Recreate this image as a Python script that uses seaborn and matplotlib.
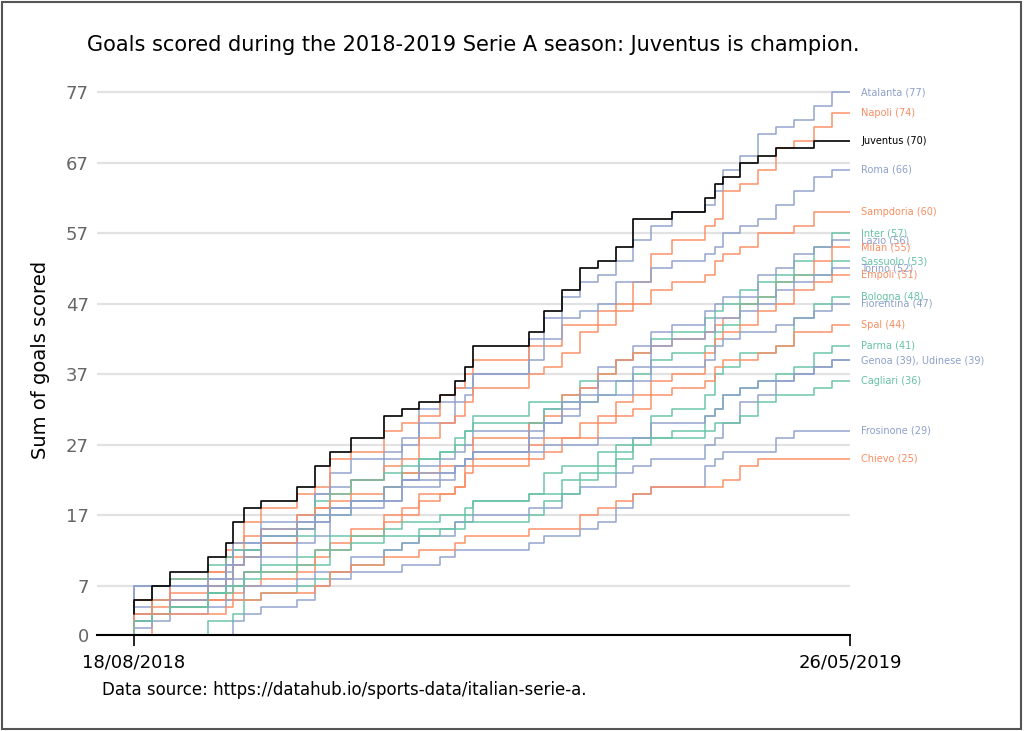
import matplotlib
matplotlib.use("Agg")
import matplotlib.pyplot as plt
import matplotlib.dates as mdates
from matplotlib.patches import Rectangle
import seaborn as sns
import pandas as pd
import numpy as np

# ---------------- data ----------------
round_dates = ["2018-08-18", "2018-08-25", "2018-09-01", "2018-09-16", "2018-09-23",
               "2018-09-26", "2018-09-30", "2018-10-07", "2018-10-21", "2018-10-28",
               "2018-11-03", "2018-11-11", "2018-11-24", "2018-12-01", "2018-12-08",
               "2018-12-16", "2018-12-22", "2018-12-26", "2018-12-29", "2019-01-20",
               "2019-01-26", "2019-02-02", "2019-02-09", "2019-02-16", "2019-02-23",
               "2019-03-02", "2019-03-09", "2019-03-17", "2019-03-30", "2019-04-03",
               "2019-04-06", "2019-04-13", "2019-04-20", "2019-04-27", "2019-05-04",
               "2019-05-12", "2019-05-19", "2019-05-26"]

# goals scored per round
atalanta   = [4,3,0,0, 1,2,3,0,3, 1,3,3,2, 1,2,4,1,2,0,2, 5,3,3,2,1,2,3,2,2, 1,2,3,2,3,1,1,2,2]
napoli     = [2,3,0,1, 3,3,1,3,2, 2,1,4,1, 3,1,1,3,1,2,2, 2,0,3,0,2,1,3,4,2, 2,1,4,1,2,3,1,2,2]
juventus   = [3,2,2,2, 2,2,3,2,1, 2,3,2,2, 3,1,1,1,2,2,3, 2,3,3,3,1,2,4,0,1, 2,2,1,2,1,1,0,1,0]
roma       = [1,3,1,2, 0,4,1,0,2, 2,4,1,1, 3,2,3,0,3,1,3, 2,3,3,1,1,3,0,2,1, 1,1,2,1,1,2,2,2,1]
sampdoria  = [0,0,3,5, 1,2,0,3,1, 2,1,2,2, 2,1,3,2,1,2,2, 2,1,2,3,1,2,1,2,1, 1,2,1,1,2,0,1,2,0]
inter      = [0,2,3,0, 1,2,2,1,2, 1,5,1,2, 1,0,2,1,1,2,2, 2,0,1,2,1,2,1,2,1, 2,1,1,2,1,1,2,2,2]
lazio      = [1,0,1,2, 2,3,1,2,1, 2,1,2,1, 2,1,2,1,1,1,2, 1,2,0,3,3,1,2,2,1, 2,1,1,0,3,1,2,1,1]
milan      = [0,2,2,1, 2,1,2,1,2, 2,3,1,1, 1,2,0,1,0,1,3, 2,1,3,1,2,2,1,1,1, 1,1,1,2,1,2,1,2,2]
sassuolo   = [1,2,4,1, 2,1,1,0,2, 1,2,0,2, 2,3,1,1,2,1,1, 0,2,1,0,1,2,1,2,1, 1,2,1,3,1,2,1,0,2]
torino     = [0,2,1,1, 1,2,1,1,2, 2,1,3,1, 1,2,0,1,2,1,1, 2,2,3,1,2,0,2,3,1, 1,2,0,1,1,2,1,1,1]
empoli     = [0,2,1,1, 1,0,1,1,1, 1,2,1,2, 2,1,2,1,1,3,1, 2,1,0,2,1,2,1,2,1, 3,2,1,1,2,1,2,1,1]
bologna    = [0,0,0,0, 2,0,1,2,1, 1,1,1,1, 2,1,2,0,1,1,2, 1,0,2,1,1,2,2,3,1, 2,3,1,2,0,1,4,2,1]
fiorentina = [1,6,0,0, 1,2,3,0,2, 1,1,1,1, 0,3,1,0,1,1,1, 3,1,1,2,1,0,2,2,0, 1,2,1,1,0,1,1,1,1]
spal       = [1,2,2,0, 0,1,1,2,0, 1,2,1,2, 2,1,2,0,1,2,1, 1,1,2,0,2,1,1,2,1, 1,2,1,0,1,1,2,0,1]
parma      = [2,0,1,1, 2,1,0,2,1, 1,1,2,0, 1,1,0,1,0,1,1, 1,3,1,0,2,1,1,0,1, 2,1,2,1,1,1,1,2,1]
genoa      = [2,0,1,2, 2,1,2,1,3, 1,1,2,1, 2,1,0,1,1,1,1, 0,1,0,0,1,0,0,2,0, 1,1,2,1,1,0,1,1,1]
udinese    = [2,1,0,0, 1,1,0,2,0, 1,1,0,2, 1,1,1,0,2,0,1, 1,0,2,1,0,2,1,1,0, 2,1,2,3,1,2,1,1,1]
cagliari   = [0,2,1,1, 2,0,1,1,1, 1,0,2,1, 1,0,0,1,0,1,0, 1,2,1,2,1,2,2,1,0, 1,1,0,1,2,1,0,1,1]
frosinone  = [0,0,0,0, 0,0,2,1,1, 1,2,1,1, 0,1,0,1,1,0,0, 1,1,0,1,1,2,2,1,0, 3,1,1,0,0,2,1,0,0]
chievo     = [2,1,0,0, 0,1,1,0,1, 0,1,2,1, 1,0,1,0,1,1,0, 1,0,0,2,1,1,1,1,0, 0,0,1,2,1,0,0,0,0]

teams = ["Atalanta", "Napoli", "Roma", "Sampdoria", "Inter", "Lazio", "Milan",
         "Sassuolo", "Torino", "Empoli", "Bologna", "Fiorentina", "Spal", "Parma",
         "Genoa", "Udinese", "Cagliari", "Frosinone", "Chievo", "Juventus"]
goals = [atalanta, napoli, roma, sampdoria, inter, lazio, milan, sassuolo, torino,
         empoli, bologna, fiorentina, spal, parma, genoa, udinese, cagliari,
         frosinone, chievo, juventus]

BLUE, ORANGE, GREEN = "#8da0cb", "#fc8d62", "#66c2a5"
palette = {"Atalanta": BLUE, "Napoli": ORANGE, "Juventus": "black", "Roma": BLUE,
           "Sampdoria": ORANGE, "Inter": GREEN, "Lazio": BLUE, "Milan": ORANGE,
           "Sassuolo": GREEN, "Torino": BLUE, "Empoli": ORANGE, "Bologna": GREEN,
           "Fiorentina": BLUE, "Spal": ORANGE, "Parma": GREEN, "Genoa": BLUE,
           "Udinese": BLUE, "Cagliari": GREEN, "Frosinone": BLUE, "Chievo": ORANGE}

y_ticks = [0, 7, 17, 27, 37, 47, 57, 67, 77]
x_tick_labels = ["18/08/2018", "26/05/2019"]

# ---------------- build table ----------------
dates = pd.to_datetime(round_dates)
rows = []
for t, g in zip(teams, goals):
    cum = np.cumsum(g)
    for d, c in zip(dates, cum):
        rows.append({"date": d, "goals": int(c), "team": t})
df = pd.DataFrame(rows)
finals = df.groupby("team")["goals"].last()

# ---------------- figure ----------------
sns.set_theme(style="white")
plt.rcParams["font.family"] = ["DejaVu Sans"]
plt.rcParams["text.color"] = "black"

fig = plt.figure(figsize=(10.24, 7.31), dpi=100)
ax = fig.add_axes([0.0947, 0.1313, 0.7354, 0.7524])

sns.lineplot(data=df, x="date", y="goals", hue="team", hue_order=teams,
             palette=palette, drawstyle="steps-pre", estimator=None,
             linewidth=1.1, legend=False, ax=ax, sort=True)
for line in ax.get_lines():
    if line.get_color() != "black":
        line.set_alpha(0.95)
    else:
        line.set_linewidth(1.2)

d0, d1 = dates[0], dates[-1]
ax.set_xlim(mdates.date2num(d0 - pd.Timedelta(days=14.5)), mdates.date2num(d1))
ax.set_ylim(0, 78)

ax.set_yticks(y_ticks)
ax.set_yticklabels([str(v) for v in y_ticks])
ax.tick_params(axis="y", length=0, labelsize=13, labelcolor="#666666", pad=6)
ax.set_xticks([mdates.date2num(d0), mdates.date2num(d1)])
ax.set_xticklabels(x_tick_labels)
ax.tick_params(axis="x", length=8, width=1.2, direction="out", labelsize=13,
               pad=5, colors="black", bottom=True)

ax.yaxis.grid(True, color="#e2e2e2", linewidth=1.6)
ax.xaxis.grid(False)
ax.set_axisbelow(True)
for s in ["top", "right", "left"]:
    ax.spines[s].set_visible(False)
ax.spines["bottom"].set_color("black")
ax.spines["bottom"].set_linewidth(1.5)

ax.set_xlabel("")
ax.set_ylabel("Sum of goals scored", fontsize=14, color="black")
ax.yaxis.set_label_coords(-0.062, 0.5)

# end labels
lx = mdates.date2num(d1) + 4.5
for t in teams:
    if t in ("Genoa", "Udinese"):
        continue
    ax.text(lx, finals[t], f"{t} ({finals[t]})", color=palette[t], fontsize=7,
            va="center", ha="left", clip_on=False)
ax.text(lx, finals["Genoa"], f"Genoa ({finals['Genoa']}), Udinese ({finals['Udinese']})",
        color=BLUE, fontsize=7, va="center", ha="left", clip_on=False)

fig.text(0.4625, 0.938, "Goals scored during the 2018-2019 Serie A season: Juventus is champion.",
         ha="center", va="center", fontsize=15, color="black")
fig.text(0.1, 0.056, "Data source: https://datahub.io/sports-data/italian-serie-a.",
         ha="left", va="center", fontsize=12, color="black")

fig.patches.append(Rectangle((0.002, 0.003), 0.995, 0.994, transform=fig.transFigure,
                             fill=False, edgecolor="#555555", linewidth=1.5))

fig.savefig("out.png", dpi=100)
